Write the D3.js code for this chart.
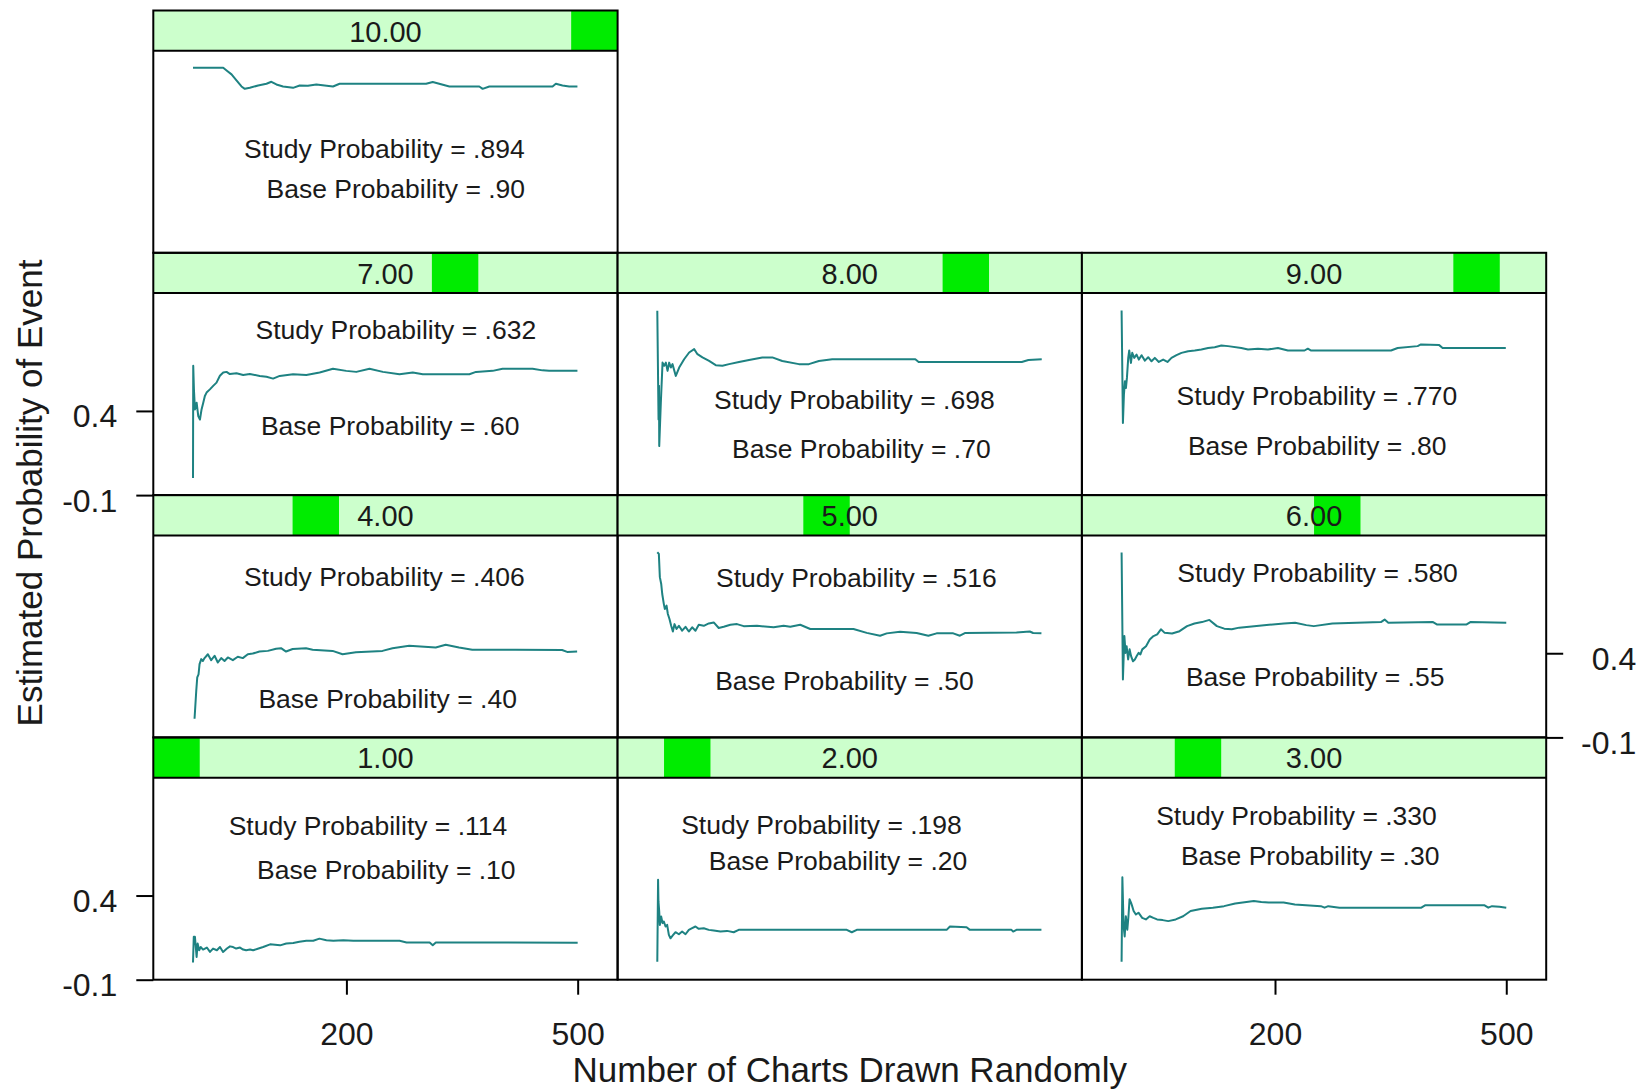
<!DOCTYPE html>
<html><head><meta charset="utf-8">
<script src="https://cdn.jsdelivr.net/npm/d3@7"></script>
<style>
body{margin:0;background:#fff}
svg{display:block}
text{font-family:"Liberation Sans",Arial,sans-serif;fill:#1a1a1a}
</style>
</head><body>
<svg id="c" width="1646" height="1090"></svg>
<script>
// ---------------- data ----------------
const levels = [1,2,3,4,5,6,7,8,9,10];
const stripLabels = ["1.00","2.00","3.00","4.00","5.00","6.00","7.00","8.00","9.00","10.00"];
const studyLabels = [".114",".198",".330",".406",".516",".580",".632",".698",".770",".894"];
const baseLabels  = [".10",".20",".30",".40",".50",".55",".60",".70",".80",".90"];
const xTicks = [200, 500];
const yTicks = [-0.1, 0.4];
const xDomain = [-50.5, 551.8];
const yDomain = [-0.1, 1.1];
const xTitle = "Number of Charts Drawn Randomly";
const yTitle = "Estimated Probability of Event";

// running estimate, [charts drawn, estimated probability]
const run01 = [[1,0.002],[2,0.155],[3.5,0.155],[5.7,0.035],[7,0.115],[9,0.075],[11,0.094],[14,0.079],[19,0.091],[23,0.065],[27,0.085],[32,0.075],[36,0.094],[40,0.065],[45,0.085],[49,0.098],[53,0.094],[57,0.085],[62,0.091],[66,0.079],[70,0.075],[75,0.079],[79,0.075],[86,0.085],[92,0.094],[101,0.11],[114,0.104],[122,0.115],[131,0.118],[139,0.125],[148,0.131],[157,0.131],[165,0.144],[174,0.134],[183,0.131],[196,0.134],[209,0.131],[234,0.131],[269,0.131],[278,0.121],[308,0.121],[312,0.105],[316,0.121],[364,0.121],[500,0.119]];
const run02 = [[1,0.007],[2,0.494],[2.5,0.365],[3.5,0.305],[4.3,0.225],[6,0.275],[7.8,0.236],[9.5,0.246],[11.7,0.216],[13.8,0.226],[16,0.166],[18.1,0.146],[21.6,0.166],[24.6,0.182],[29,0.17],[33.2,0.186],[37.6,0.17],[41.9,0.196],[46.2,0.206],[50.5,0.216],[54.8,0.202],[61.3,0.206],[67.8,0.196],[74.2,0.192],[82.9,0.186],[91.5,0.19],[100.1,0.182],[106.6,0.196],[246.8,0.196],[253.3,0.182],[259.8,0.196],[376.3,0.196],[380.6,0.216],[402.2,0.212],[406.5,0.196],[460.4,0.196],[462.6,0.186],[466.9,0.196],[499.3,0.196]];
const run03 = [[1,0.007],[2,0.508],[3.6,0.217],[5,0.157],[6.5,0.277],[8.4,0.197],[9.9,0.277],[11.3,0.378],[13.2,0.358],[14.7,0.337],[16.6,0.308],[19.5,0.287],[22.9,0.298],[27.7,0.267],[32.5,0.258],[37.4,0.277],[42.2,0.267],[47,0.258],[54.3,0.254],[61.5,0.248],[71.2,0.258],[80.8,0.277],[90.5,0.308],[105,0.322],[119.4,0.328],[133.9,0.337],[148.4,0.353],[162.9,0.362],[172.5,0.368],[182.2,0.362],[191.9,0.358],[211.2,0.358],[225.7,0.347],[259.5,0.337],[264.3,0.328],[269.1,0.337],[283.6,0.328],[389.8,0.328],[394.6,0.342],[471.9,0.342],[476.7,0.328],[481.5,0.337],[491.2,0.333],[500,0.328]];
const run04 = [[3,0.011],[5.2,0.176],[6.5,0.256],[8.2,0.275],[9.5,0.335],[11.7,0.365],[13.8,0.354],[16,0.371],[20.3,0.394],[24.6,0.359],[29,0.385],[33.2,0.345],[37.6,0.371],[41.9,0.354],[46.2,0.375],[52.7,0.359],[59.1,0.379],[65.6,0.371],[72.1,0.394],[78.5,0.398],[87.2,0.41],[98,0.414],[108.8,0.427],[115.2,0.43],[121.7,0.41],[130.3,0.425],[147.6,0.43],[156.2,0.421],[182.1,0.414],[195,0.394],[212.3,0.406],[246.8,0.414],[259.8,0.43],[281.4,0.444],[315.9,0.434],[328.8,0.45],[346.1,0.434],[363.3,0.421],[419.4,0.421],[479.8,0.419],[486.3,0.408],[499.3,0.41]];
const run05 = [[1,1.0],[3,0.99],[4.3,0.852],[6.1,0.811],[7.4,0.752],[9.5,0.692],[10.8,0.663],[13,0.683],[14.7,0.633],[16.8,0.603],[19,0.563],[21.2,0.529],[23.3,0.573],[25.9,0.544],[29,0.563],[33.2,0.534],[37.6,0.557],[41.9,0.529],[46.2,0.554],[50.5,0.534],[54.8,0.569],[61.3,0.563],[67.8,0.577],[74.2,0.583],[80.7,0.55],[87.2,0.557],[95.8,0.569],[104.4,0.573],[113.1,0.561],[130.3,0.563],[151.9,0.554],[164.9,0.563],[173.5,0.557],[186.4,0.569],[199.4,0.544],[255.5,0.544],[272.7,0.521],[290,0.504],[298.6,0.518],[315.9,0.527],[337.4,0.52],[352.6,0.504],[363.3,0.518],[384.9,0.518],[393.5,0.504],[400,0.52],[466.9,0.523],[484.2,0.529],[488.5,0.52],[499.3,0.518]];
const run06 = [[1,0.998],[2.7,0.244],[4.6,0.502],[6.1,0.402],[7.5,0.442],[9.5,0.363],[11.4,0.423],[13.3,0.383],[15.8,0.352],[18.2,0.363],[20.6,0.383],[23,0.402],[25.4,0.393],[27.8,0.423],[32.7,0.442],[37.5,0.482],[42.4,0.502],[47.2,0.512],[52,0.542],[56.9,0.521],[66.5,0.517],[76.2,0.531],[85.9,0.561],[95.5,0.577],[105.2,0.585],[114.9,0.598],[124.6,0.561],[134.2,0.546],[143.9,0.542],[153.6,0.552],[172.9,0.561],[192.3,0.569],[211.6,0.577],[226.1,0.581],[240.6,0.567],[250.3,0.561],[274.5,0.577],[337.4,0.585],[342.2,0.6],[347,0.581],[405,0.585],[409.9,0.571],[448.6,0.571],[453.4,0.585],[500,0.581]];
const run07 = [[1,0.002],[1.3,0.668],[2.2,0.528],[3.5,0.409],[5.7,0.449],[7.8,0.37],[10,0.349],[12.1,0.409],[14.3,0.449],[16.4,0.489],[18.6,0.509],[22.9,0.528],[27.2,0.549],[31.5,0.568],[35.9,0.609],[40.2,0.628],[44.5,0.632],[48.8,0.619],[57.4,0.624],[66.1,0.613],[74.7,0.619],[87.6,0.608],[96.3,0.603],[104.9,0.592],[113.5,0.608],[130.8,0.618],[148,0.613],[165.3,0.628],[182.6,0.651],[199.8,0.638],[212.8,0.632],[230,0.651],[247.3,0.632],[268.9,0.618],[286.1,0.628],[299.1,0.618],[359.5,0.618],[368.1,0.632],[389.7,0.638],[402.6,0.651],[441.5,0.651],[454.4,0.641],[463,0.638],[499.7,0.638]];
const run08 = [[1,0.995],[2.6,0.349],[3.2,0.55],[3.5,0.191],[5.6,0.45],[7.8,0.687],[10,0.668],[12.1,0.687],[14.3,0.638],[16.4,0.687],[18.6,0.658],[20.7,0.678],[25,0.608],[29.4,0.658],[35.8,0.707],[42.3,0.747],[48.8,0.767],[53.1,0.737],[59.6,0.718],[68.2,0.697],[76.8,0.672],[85.5,0.668],[94.1,0.678],[107,0.691],[120,0.703],[137.2,0.718],[150.2,0.718],[163.1,0.697],[184.7,0.678],[197.6,0.678],[210.6,0.697],[227.9,0.707],[335.7,0.707],[340,0.691],[473.8,0.691],[482.4,0.703],[499.7,0.707]];
const run09 = [[1,0.997],[2.7,0.328],[4,0.497],[5.3,0.576],[6.6,0.536],[7.9,0.596],[9.6,0.715],[10.9,0.759],[13.1,0.685],[14.8,0.745],[17.4,0.715],[20.4,0.735],[23.4,0.705],[26.9,0.731],[31.2,0.699],[35.5,0.719],[39.8,0.695],[44.1,0.715],[49.3,0.691],[54.9,0.705],[60.5,0.691],[65.7,0.715],[72.2,0.731],[78.7,0.745],[87.3,0.755],[95.9,0.759],[104.5,0.765],[113.2,0.774],[121.8,0.778],[130.4,0.789],[139.1,0.785],[156.3,0.774],[165,0.765],[177.9,0.77],[190.8,0.765],[203.8,0.774],[216.7,0.759],[238.3,0.759],[242.6,0.77],[246.9,0.759],[350.5,0.759],[359.1,0.774],[385,0.785],[389.3,0.795],[413,0.791],[417.4,0.774],[499.4,0.774]];
const run10 = [[1,0.999],[40.2,0.999],[45.4,0.98],[51,0.96],[57.4,0.924],[63.9,0.888],[68.2,0.874],[74.7,0.88],[85.5,0.894],[96.3,0.904],[102.7,0.916],[109.2,0.9],[117.8,0.888],[130.8,0.88],[139.4,0.894],[150,0.892],[161,0.9],[182.6,0.888],[191.2,0.904],[234.4,0.904],[303.4,0.904],[312,0.915],[333.6,0.888],[372.4,0.888],[376.7,0.874],[385.4,0.888],[467.4,0.888],[471.7,0.904],[480.3,0.894],[489,0.888],[499.7,0.888]];

// annotation anchors in data units [charts drawn, probability]
const studyPos = [[228,0.813],[214,0.823],[227.9,0.878],[249.2,0.855],[259.2,0.849],[255.2,0.88],[264.1,0.884],[256.6,0.465],[254.4,0.493],[249.2,0.518]];
const basePos  = [[251.8,0.552],[235.4,0.605],[245.6,0.639],[253.5,0.13],[243.8,0.235],[252.1,0.259],[256.8,0.313],[265.7,0.178],[254.7,0.193],[264.1,0.283]];

// ---------------- drawing ----------------
const runs = [run01,run02,run03,run04,run05,run06,run07,run08,run09,run10];
const panelCol = [0,1,2,0,1,2,0,1,2,0];
const panelRow = [3,3,3,2,2,2,1,1,1,0];

const left0 = 153.3, pw = 464.3, top0 = 10.5, rowH = 242.3, sh = 40.3, ph = rowH - sh;
const svg = d3.select("#c");
const x = d3.scaleLinear().domain(xDomain).range([0, pw]);
const y = d3.scaleLinear().domain(yDomain).range([ph, 0]);
const seg = d3.scaleBand().domain(levels).range([0, pw]).padding(0);
const line = d3.line().x(d => x(d[0])).y(d => y(d[1]));
const annSize = 26.5;

runs.forEach((run, i) => {
  const gx = left0 + panelCol[i] * pw, gy = top0 + panelRow[i] * rowH;
  const g = svg.append("g").attr("transform", `translate(${gx},${gy})`);
  // strip
  g.append("rect").attr("width", pw).attr("height", sh).attr("fill", "#ccffcc");
  g.append("rect").attr("x", seg(levels[i])).attr("width", seg.bandwidth())
    .attr("height", sh).attr("fill", "#00ec00");
  g.append("text").attr("x", pw / 2).attr("y", 31).attr("text-anchor", "middle")
    .attr("font-size", 29).text(stripLabels[i]);
  // panel
  const p = g.append("g").attr("transform", `translate(0,${sh})`);
  p.append("path").datum(run).attr("d", line).attr("fill", "none")
    .attr("stroke", "#1e8282").attr("stroke-width", 2).attr("stroke-linejoin", "round");
  p.append("text").attr("x", x(studyPos[i][0])).attr("y", y(studyPos[i][1]) + 0.358 * annSize)
    .attr("text-anchor", "middle").attr("font-size", annSize)
    .text("Study Probability = " + studyLabels[i]);
  p.append("text").attr("x", x(basePos[i][0])).attr("y", y(basePos[i][1]) + 0.358 * annSize)
    .attr("text-anchor", "middle").attr("font-size", annSize)
    .text("Base Probability = " + baseLabels[i]);
  // borders
  g.append("rect").attr("width", pw).attr("height", rowH).attr("fill", "none")
    .attr("stroke", "#000").attr("stroke-width", 2);
  g.append("line").attr("x1", 0).attr("x2", pw).attr("y1", sh).attr("y2", sh)
    .attr("stroke", "#000").attr("stroke-width", 2);

  // y axes
  if ((panelRow[i] === 1 || panelRow[i] === 3) && panelCol[i] === 0) {
    const ax = p.append("g").call(d3.axisLeft(y).tickValues(yTicks).tickSize(17).tickFormat(d => d.toFixed(1)));
    ax.select(".domain").remove();
    ax.selectAll("line").attr("stroke", "#000").attr("stroke-width", 2);
    ax.selectAll("text").attr("x", -36).attr("dy", 16).attr("font-size", 32)
      .attr("font-family", "Liberation Sans, Arial, sans-serif").attr("fill", "#1a1a1a");
  }
  if (panelRow[i] === 2 && panelCol[i] === 2) {
    const ax = p.append("g").attr("transform", `translate(${pw},0)`)
      .call(d3.axisRight(y).tickValues(yTicks).tickSize(17).tickFormat(d => d.toFixed(1)));
    ax.select(".domain").remove();
    ax.selectAll("line").attr("stroke", "#000").attr("stroke-width", 2);
    ax.selectAll("text").attr("x", 90).attr("dy", 16).attr("text-anchor", "end").attr("font-size", 32)
      .attr("font-family", "Liberation Sans, Arial, sans-serif").attr("fill", "#1a1a1a");
  }
  // x axes
  if (panelRow[i] === 3 && panelCol[i] !== 1) {
    const ax = p.append("g").attr("transform", `translate(0,${ph})`)
      .call(d3.axisBottom(x).tickValues(xTicks).tickSize(15).tickFormat(d3.format("d")));
    ax.select(".domain").remove();
    ax.selectAll("line").attr("stroke", "#000").attr("stroke-width", 2);
    ax.selectAll("text").attr("y", 65).attr("dy", 0).attr("font-size", 32)
      .attr("font-family", "Liberation Sans, Arial, sans-serif").attr("fill", "#1a1a1a");
  }
});

// axis titles
svg.append("text").attr("x", left0 + 1.5 * pw).attr("y", 1082).attr("text-anchor", "middle")
  .attr("font-size", 35).attr("fill", "#222").text(xTitle);
svg.append("text").attr("transform", "translate(42,493) rotate(-90)").attr("text-anchor", "middle")
  .attr("font-size", 35).attr("fill", "#222").text(yTitle);
</script>
</body></html>
